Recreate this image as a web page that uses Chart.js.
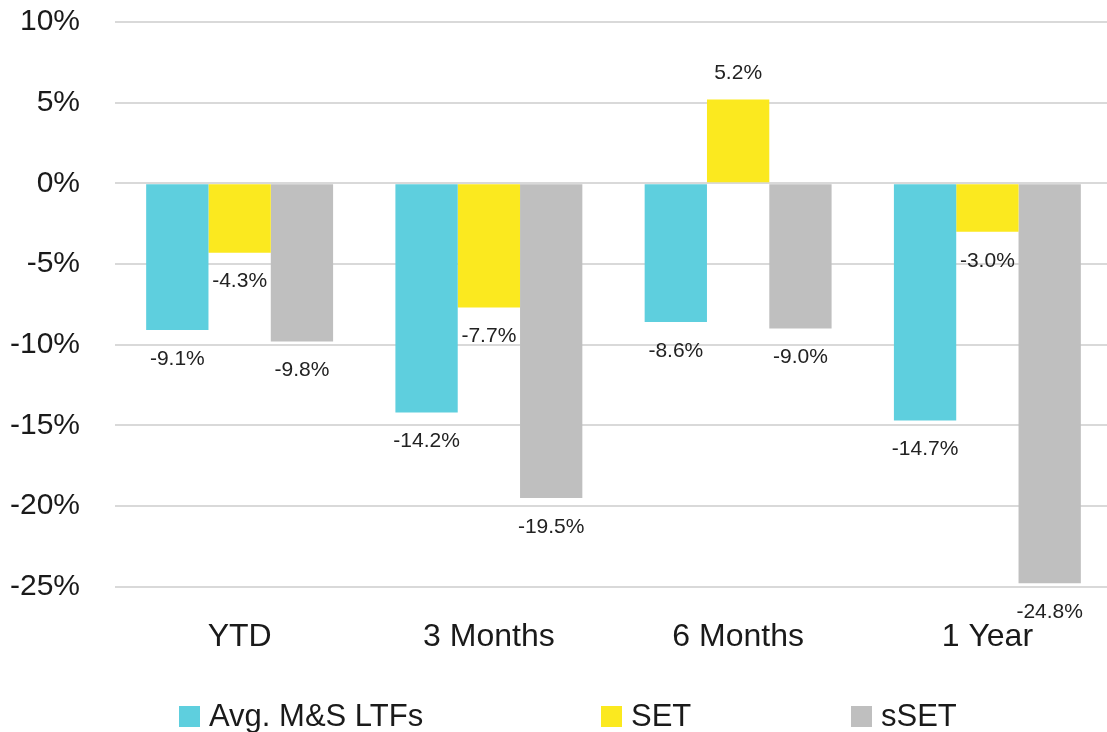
<!DOCTYPE html>
<html>
<head>
<meta charset="utf-8">
<script src="https://cdn.jsdelivr.net/npm/chart.js@4/dist/chart.umd.min.js"></script>
<style>
  html, body { margin: 0; padding: 0; background: #fff; overflow: hidden; }
  #wrap { width: 1107px; height: 732px; overflow: hidden; }
</style>
</head>
<body>
<div id="wrap"><canvas id="grafico" width="1112" height="732"></canvas></div>
<script>
const periodos = ["YTD", "3 Months", "6 Months", "1 Year"];
const avgLtf = [-9.1, -14.2, -8.6, -14.7];
const set = [-4.3, -7.7, 5.2, -3.0];
const sset = [-9.8, -19.5, -9.0, -24.8];
const ticksY = [10, 5, 0, -5, -10, -15, -20, -25];

const fuente = "'Liberation Sans', Arial, sans-serif";
const ctx = document.getElementById("grafico").getContext("2d");

// etiquetas de valor bajo/sobre cada barra
const etiquetas = {
    id: "etiquetas",
    afterDatasetsDraw(chart) {
        const c = chart.ctx;
        c.save();
        c.font = "21px " + fuente;
        c.fillStyle = "#222";
        c.textAlign = "center";
        c.textBaseline = "middle";
        chart.data.datasets.forEach((ds, i) => {
            chart.getDatasetMeta(i).data.forEach((bar, j) => {
                const v = ds.data[j];
                const y = v < 0 ? bar.y + 29 : bar.y - 26;
                c.fillText(v.toFixed(1) + "%", bar.x, y);
            });
        });
        c.restore();
    }
};

// leyenda abajo
const leyenda = {
    id: "leyenda",
    afterDraw(chart) {
        const c = chart.ctx;
        const xs = [179, 601, 851];
        c.save();
        c.font = "31px " + fuente;
        c.textBaseline = "middle";
        c.textAlign = "left";
        chart.data.datasets.forEach((ds, i) => {
            c.fillStyle = ds.backgroundColor;
            c.fillRect(xs[i], 706, 21, 21);
            c.fillStyle = "#1a1a1a";
            c.fillText(ds.label, xs[i] + 30, 717);
        });
        c.restore();
    }
};

new Chart(ctx, {
    type: "bar",
    data: {
        labels: periodos,
        datasets: [
            { label: "Avg. M&S LTFs", data: avgLtf, backgroundColor: "#5ecfde" },
            { label: "SET", data: set, backgroundColor: "#fbe91f" },
            { label: "sSET", data: sset, backgroundColor: "#bfbfbf" }
        ]
    },
    options: {
        responsive: false,
        animation: false,
        categoryPercentage: 0.75,
        barPercentage: 1,
        layout: { padding: { top: 22, bottom: 45, left: 0, right: 0 } },
        plugins: {
            legend: { display: false },
            tooltip: { enabled: false }
        },
        scales: {
            x: {
                grid: { display: false, drawTicks: false },
                border: { display: false },
                ticks: { color: "#1a1a1a", font: { family: fuente, size: 32 }, padding: 31, maxRotation: 0 },
                afterFit: s => { s.paddingLeft = 0; s.paddingRight = 0; }
            },
            y: {
                min: -25,
                max: 10,
                afterBuildTicks: s => { s.ticks = ticksY.map(v => ({ value: v })); },
                afterFit: s => { s.width = 115; s.paddingTop = 0; s.paddingBottom = 0; },
                grid: { color: "#d9d9d9", lineWidth: 2, drawTicks: false },
                border: { display: false },
                ticks: {
                    color: "#1a1a1a",
                    font: { family: fuente, size: 30 },
                    padding: 35,
                    callback: v => v + "%"
                }
            }
        }
    },
    plugins: [etiquetas, leyenda]
});
</script>
</body>
</html>
